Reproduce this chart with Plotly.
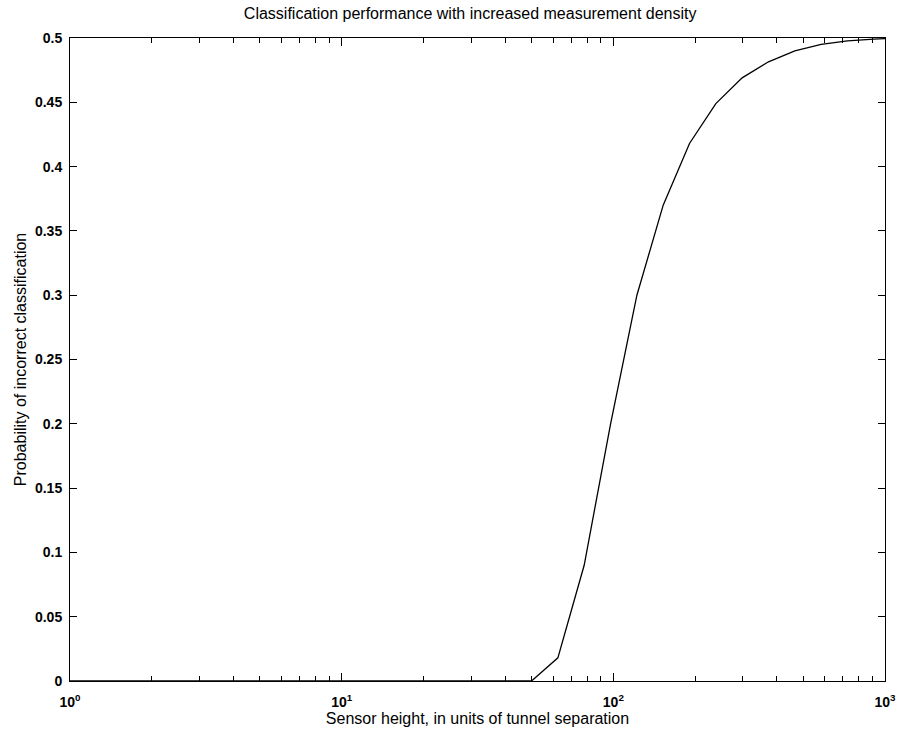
import plotly.graph_objects as go

# Data
sensor_height = [1, 50, 62.5, 78.1, 97.7, 122.1, 152.6, 190.7, 238.4, 298.0,
                 372.5, 465.7, 582.1, 727.6, 909.5, 1000]
p_incorrect = [0.0, 0.0, 0.018, 0.09, 0.2, 0.30, 0.37, 0.418, 0.449, 0.469,
               0.4815, 0.490, 0.495, 0.4977, 0.4992, 0.4995]

x_major = [1, 10, 100, 1000]
x_major_text = ["10<sup>0</sup>", "10<sup>1</sup>", "10<sup>2</sup>", "10<sup>3</sup>"]
x_minor = [m * d for d in (1, 10, 100) for m in range(2, 10)]
y_ticks = [0, 0.05, 0.1, 0.15, 0.2, 0.25, 0.3, 0.35, 0.4, 0.45, 0.5]
y_text = ["0", "0.05", "0.1", "0.15", "0.2", "0.25", "0.3", "0.35", "0.4", "0.45", "0.5"]

font = "Liberation Sans, Arial, Helvetica, sans-serif"

fig = go.Figure()
fig.add_trace(go.Scatter(
    x=sensor_height, y=p_incorrect, mode="lines",
    line=dict(color="black", width=1.3), showlegend=False,
))

fig.update_layout(
    width=899, height=738,
    margin=dict(l=70, r=14, t=38, b=57),
    paper_bgcolor="white", plot_bgcolor="white",
    font=dict(family=font, size=14, color="black"),
    title=dict(text="Classification performance with increased measurement density",
               x=0.491, xref="paper", y=1 - 13 / 738, yref="container",
               xanchor="center", yanchor="middle",
               font=dict(size=16, family=font, color="black")),
)

fig.update_xaxes(
    type="log", range=[0, 3], automargin=False,
    tickvals=x_major, ticktext=x_major_text,
    ticks="inside", ticklen=8, tickwidth=1, tickcolor="black",
    minor=dict(tickvals=x_minor, ticks="inside", ticklen=5, tickwidth=1,
               tickcolor="black", showgrid=False),
    showline=True, linecolor="black", linewidth=1, mirror="ticks",
    showgrid=False, zeroline=False, ticklabelstandoff=8,
    tickfont=dict(size=14, family=font, color="black", weight="bold"),
    title=dict(text="Sensor height, in units of tunnel separation",
               font=dict(size=16, family=font, color="black"), standoff=2),
)

fig.update_yaxes(
    range=[0, 0.5], automargin=False,
    tickvals=y_ticks, ticktext=y_text,
    ticks="inside", ticklen=7, tickwidth=1, tickcolor="black",
    showline=True, linecolor="black", linewidth=1, mirror="ticks",
    showgrid=False, zeroline=False, ticklabelstandoff=4,
    tickfont=dict(size=14, family=font, color="black", weight="bold"),
    title=dict(text="Probability of incorrect classification",
               font=dict(size=16, family=font, color="black"), standoff=4),
)

fig.write_html("out.html", config={"displayModeBar": False},
               post_script="document.body.style.margin='0px';")
